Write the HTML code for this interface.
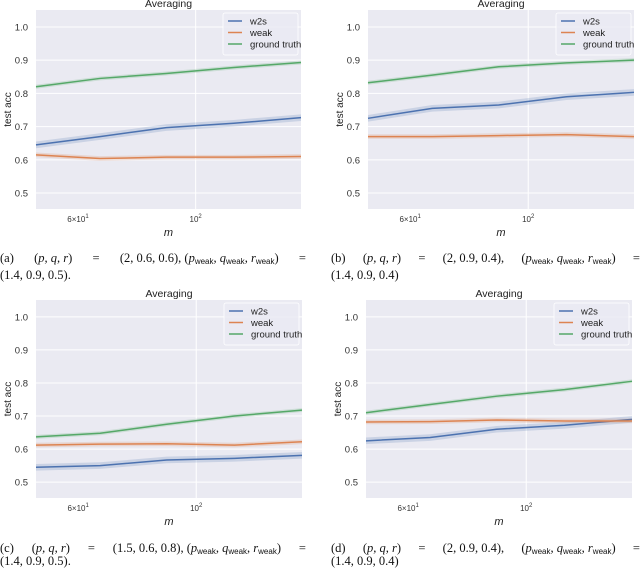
<!DOCTYPE html>
<html><head><meta charset="utf-8">
<style>
body{margin:0;background:#fff;}
#wrap{position:relative;width:640px;height:570px;overflow:hidden;}
svg{position:absolute;left:0;top:0;}
.cap{position:absolute;font-family:"Liberation Serif",serif;font-size:12.5px;color:#111;width:300px;}
.cap .l1{display:flex;justify-content:space-between;white-space:nowrap;}
.cap i{font-style:italic;}
.cap sub{font-size:8px;vertical-align:-2px;font-family:"Liberation Sans",sans-serif;line-height:0;}
.top{line-height:17px;}
.bot{line-height:13px;}
</style></head>
<body>
<div id="wrap">
<svg id="fig" width="640" height="570"></svg>
<div class="cap top" style="left:0;top:250px;width:306px">
 <div class="l1"><span>(a)</span><span>(<i>p, q, r</i>)</span><span>=</span><span>(2, 0.6, 0.6), (<i>p</i><sub>weak</sub>, <i>q</i><sub>weak</sub>, <i>r</i><sub>weak</sub>)</span><span>=</span></div>
 <div>(1.4, 0.9, 0.5).</div></div>
<div class="cap top" style="left:331px;top:250px;width:309px">
 <div class="l1"><span>(b)</span><span>(<i>p, q, r</i>)</span><span>=</span><span>(2, 0.9, 0.4),</span><span>(<i>p</i><sub>weak</sub>, <i>q</i><sub>weak</sub>, <i>r</i><sub>weak</sub>)</span><span>=</span></div>
 <div>(1.4, 0.9, 0.4)</div></div>
<div class="cap bot" style="left:0;top:542px;width:306px">
 <div class="l1"><span>(c)</span><span>(<i>p, q, r</i>)</span><span>=</span><span>(1.5, 0.6, 0.8), (<i>p</i><sub>weak</sub>, <i>q</i><sub>weak</sub>, <i>r</i><sub>weak</sub>)</span><span>=</span></div>
 <div>(1.4, 0.9, 0.5).</div></div>
<div class="cap bot" style="left:331px;top:542px;width:309px">
 <div class="l1"><span>(d)</span><span>(<i>p, q, r</i>)</span><span>=</span><span>(2, 0.9, 0.4),</span><span>(<i>p</i><sub>weak</sub>, <i>q</i><sub>weak</sub>, <i>r</i><sub>weak</sub>)</span><span>=</span></div>
 <div>(1.4, 0.9, 0.4)</div></div>
</div>
<script>
const mValues = [50, 66, 88, 118, 158];
const yTicks = [0.5, 0.6, 0.7, 0.8, 0.9, 1.0];
const yTickLabels = ["0.5", "0.6", "0.7", "0.8", "0.9", "1.0"];
const seriesNames = ["w2s", "weak", "ground truth"];
const aW2s = [0.645, 0.670, 0.697, 0.710, 0.727];
const aWeak = [0.615, 0.604, 0.608, 0.608, 0.610];
const aGt = [0.820, 0.845, 0.860, 0.878, 0.893];
const bW2s = [0.725, 0.755, 0.765, 0.790, 0.803];
const bWeak = [0.670, 0.670, 0.673, 0.676, 0.670];
const bGt = [0.832, 0.855, 0.880, 0.892, 0.900];
const cW2s = [0.545, 0.550, 0.567, 0.572, 0.581];
const cWeak = [0.612, 0.615, 0.616, 0.612, 0.622];
const cGt = [0.637, 0.648, 0.675, 0.700, 0.718];
const dW2s = [0.625, 0.635, 0.660, 0.672, 0.690];
const dWeak = [0.682, 0.683, 0.688, 0.685, 0.685];
const dGt = [0.710, 0.735, 0.760, 0.780, 0.805];
const bandW2s = [0.010, 0.010, 0.010, 0.010, 0.010];
const bandWeak = [0.007, 0.007, 0.007, 0.007, 0.007];
const bandGt = [0.006, 0.006, 0.006, 0.006, 0.006];

const NS = "http://www.w3.org/2000/svg";
const svg = document.getElementById('fig');
const colors = ["#4c72b0", "#dd8452", "#55a868"];
const X_MIN = 50, X_MAX = 158, Y_MIN = 0.452, Y_MAX = 1.051;

function mk(tag, attrs, parent){
  const e = document.createElementNS(NS, tag);
  for (const k in attrs) e.setAttribute(k, attrs[k]);
  parent.appendChild(e);
  return e;
}

function panel(id, x0, x1, y0, y1, series){
  const g = mk('g', {}, svg);
  
  
  const xs = v => x0 + (Math.log(v) - Math.log(X_MIN)) / (Math.log(X_MAX) - Math.log(X_MIN)) * (x1 - x0);
  const ys = v => y1 - (v - Y_MIN) / (Y_MAX - Y_MIN) * (y1 - y0);
  const bg = mk('rect', {x:x0, y:y0, width:x1-x0, height:y1-y0, fill:'#eaeaf2'}, g);
  
  
  yTicks.forEach((t, i) => {
    const gl = mk('line', {x1:x0, x2:x1, y1:ys(t), y2:ys(t), stroke:'#fff', 'stroke-width':1}, g);
    
    
    const tl = mk('text', {x:x0-8, y:ys(t)+3.5, 'text-anchor':'end', 'font-size':'9.5', fill:'#333', 'font-family':'Liberation Sans, sans-serif'}, g);
    tl.textContent = yTickLabels[i];
    
    
  });
  const vg = mk('line', {x1:xs(100), x2:xs(100), y1:y0, y2:y1, stroke:'#fff', 'stroke-width':1}, g);
  
  
  const xt1 = mk('text', {x:xs(60), y:y1+13, 'text-anchor':'middle', 'font-size':'8', fill:'#333', 'font-family':'Liberation Sans, sans-serif'}, g);
  xt1.innerHTML = '6\u00d710<tspan dy="-4" font-size="6">1</tspan>';
  
  
  const xt2 = mk('text', {x:xs(100), y:y1+13, 'text-anchor':'middle', 'font-size':'8', fill:'#333', 'font-family':'Liberation Sans, sans-serif'}, g);
  xt2.innerHTML = '10<tspan dy="-4" font-size="6">2</tspan>';
  
  
  const xl = mk('text', {x:(x0+x1)/2, y:y1+27, 'text-anchor':'middle', 'font-size':'11', 'font-style':'italic', fill:'#222', 'font-family':'Liberation Sans, sans-serif'}, g);
  xl.textContent = 'm';
  
  
  const yl = mk('text', {x:0, y:0, 'text-anchor':'middle', 'font-size':'10', fill:'#222', 'font-family':'Liberation Sans, sans-serif', transform:`translate(${x0-25},${(y0+y1)/2}) rotate(-90)`}, g);
  yl.textContent = 'test acc';
  
  
  const tt = mk('text', {x:(x0+x1)/2, y:y0-3, 'text-anchor':'middle', 'font-size':'10.5', fill:'#222', 'font-family':'Liberation Sans, sans-serif'}, g);
  tt.textContent = 'Averaging';
  
  
  const bands = [bandW2s, bandWeak, bandGt];
  series.forEach((vals, si) => {
    const up = mValues.map((m, i) => xs(m) + ',' + ys(vals[i] + bands[si][i]));
    const dn = mValues.map((m, i) => xs(m) + ',' + ys(vals[i] - bands[si][i])).reverse();
    const band = mk('polygon', {points: up.concat(dn).join(' '), fill: colors[si], 'fill-opacity': 0.2}, g);
    
    
    const line = mk('polyline', {points: mValues.map((m, i) => xs(m) + ',' + ys(vals[i])).join(' '), fill:'none', stroke: colors[si], 'stroke-width': 1.5}, g);
    
    
  });
  const lx = x1 - 78, ly = y0 + 3;
  const lg = mk('g', {}, g);
  
  
  mk('rect', {x:lx, y:ly, width:75, height:42, rx:2, fill:'#eaeaf2', 'fill-opacity':0.8, stroke:'#fff', 'stroke-width':0.8}, lg);
  seriesNames.forEach((n, i) => {
    const yy = ly + 8 + i * 11.5;
    const ent = mk('g', {}, lg);
    
    
    mk('line', {x1:lx+5, x2:lx+19, y1:yy, y2:yy, stroke:colors[i], 'stroke-width':1.5}, ent);
    const t = mk('text', {x:lx+27, y:yy+3.5, 'font-size':'9.5', fill:'#222', 'font-family':'Liberation Sans, sans-serif'}, ent);
    t.textContent = n;
  });
}

panel('a', 36, 301, 10, 209, [aW2s, aWeak, aGt]);
panel('b', 368, 634, 10, 209, [bW2s, bWeak, bGt]);
panel('c', 36, 302, 300, 498, [cW2s, cWeak, cGt]);
panel('d', 366, 632, 300, 498, [dW2s, dWeak, dGt]);
</script>
</body></html>
